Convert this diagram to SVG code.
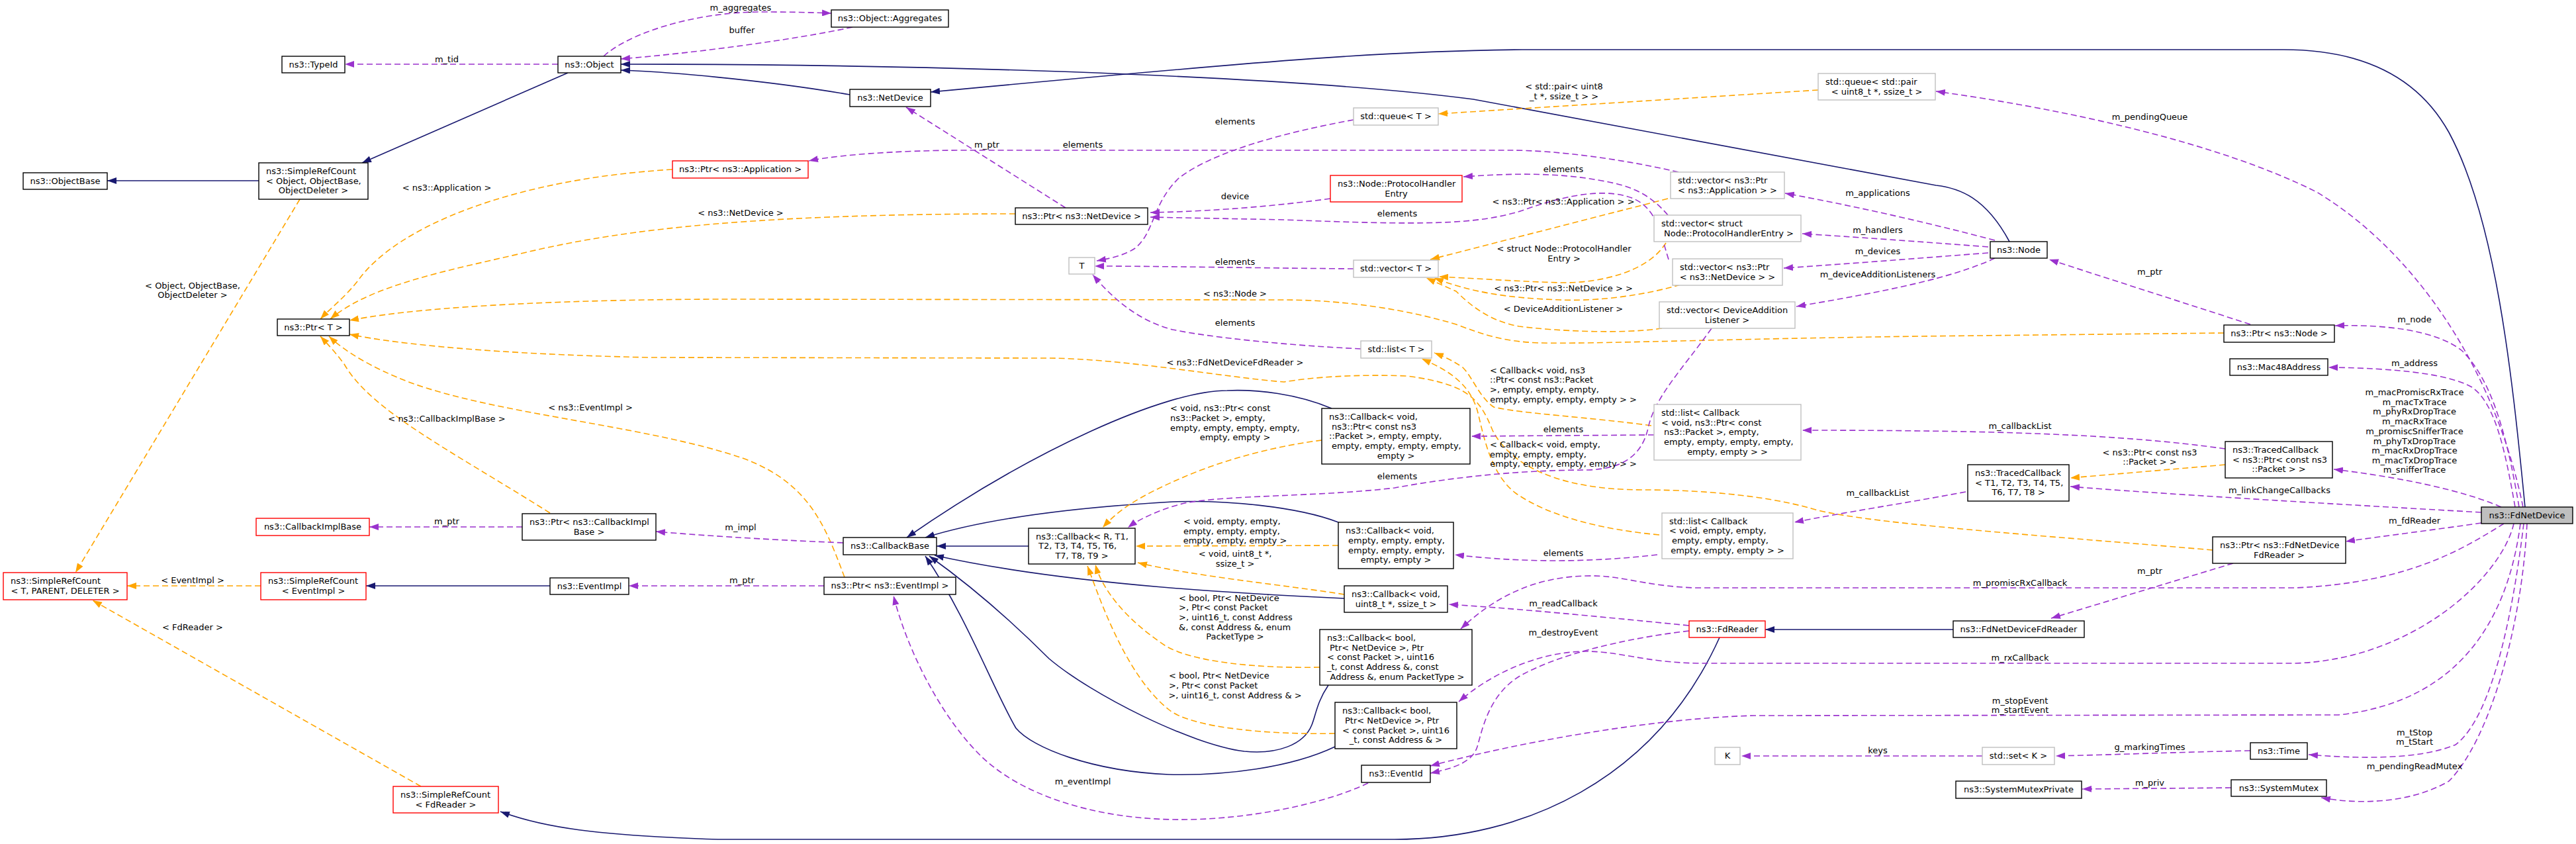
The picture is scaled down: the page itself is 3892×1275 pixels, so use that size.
<svg xmlns="http://www.w3.org/2000/svg" width="3892" height="1275" viewBox="0 0 3892 1275">
<style>
text{font-family:"DejaVu Sans","Liberation Sans",sans-serif;font-size:13px;fill:#000}
.m{text-anchor:middle}
.node rect{fill:#fff;stroke:#000;stroke-width:1.4}
.node.g rect{stroke:#bfbfbf}
.node.r rect{stroke:#ff0000}
.node.f rect{fill:#bfbfbf}
.e{fill:none;stroke-width:1.6}
.p{stroke:#9a32cd;stroke-dasharray:9 5;marker-end:url(#ap)}
.o{stroke:#ffa500;stroke-dasharray:9 5;marker-end:url(#ao)}
.n{stroke:#191970;marker-end:url(#an)}
</style>
<defs>
<marker id="ap" viewBox="0 0 14 10" refX="14" refY="5" markerWidth="14" markerHeight="10" markerUnits="userSpaceOnUse" orient="auto"><path d="M0,0L14,5L0,10z" fill="#9a32cd"/></marker>
<marker id="ao" viewBox="0 0 14 10" refX="14" refY="5" markerWidth="14" markerHeight="10" markerUnits="userSpaceOnUse" orient="auto"><path d="M0,0L14,5L0,10z" fill="#ffa500"/></marker>
<marker id="an" viewBox="0 0 14 10" refX="14" refY="5" markerWidth="14" markerHeight="10" markerUnits="userSpaceOnUse" orient="auto"><path d="M0,0L14,5L0,10z" fill="#191970"/></marker>
</defs>
<rect width="3892" height="1275" fill="#fff"/>
<g id="connectors">
<!-- inheritance -->
<path class="e n" d="M391,273L162,273"/>
<path class="e n" d="M858,110L547,246"/>
<path class="e n" d="M1284,143C1150,120 1000,108 938,106"/>
<path class="e n" d="M3036,365C3000,298 2960,284 2925,280L2226,150C2000,120 1500,97 938,97"/>
<path class="e n" d="M3815,766C3795,560 3770,330 3700,200C3650,110 3560,75 3450,75L2300,75C2100,77 1950,88 1406,139"/>
<path class="e n" d="M1554,825L1415,825"/>
<path class="e n" d="M2012,617C1960,595 1900,588 1854,590C1760,590 1560,680 1370,812"/>
<path class="e n" d="M2022,789C1960,765 1850,755 1772,758C1650,765 1500,780 1398,812"/>
<path class="e n" d="M2031,904C1900,898 1620,885 1412,839"/>
<path class="e n" d="M2007,1035C1990,1060 1988,1080 1982,1095C1970,1125 1930,1140 1880,1135C1800,1125 1650,1050 1585,995C1520,930 1460,880 1404,840"/>
<path class="e n" d="M2017,1128C1950,1160 1850,1172 1766,1170C1650,1165 1560,1130 1535,1100C1500,1040 1460,930 1398,840"/>
<path class="e n" d="M831,885L553,885"/>
<path class="e n" d="M2598,963C2500,1180 2300,1268 2107,1268L1085,1268C900,1262 820,1250 756,1226"/>
<path class="e n" d="M2951,951L2667,951"/>
<!-- template -->
<path class="e o" d="M394,885L192,885"/>
<path class="e o" d="M636,1188L140,907"/>
<path class="e o" d="M453,301L114,865"/>
<path class="e o" d="M1016,256C780,270 600,340 540,425C520,450 500,465 484,482"/>
<path class="e o" d="M1534,323C1150,323 950,345 800,380C680,408 560,430 499,482"/>
<path class="e o" d="M3360,503L2900,508C2600,512 2400,520 2326,518C2270,516 2240,505 2200,490C2100,460 2000,453 1940,453L1100,452C900,452 650,460 528,484"/>
<path class="e o" d="M3343,831C3100,810 2800,790 2733,767C2650,745 2550,740 2482,740C2350,740 2280,700 2255,650C2235,600 2215,580 2126,568C2050,565 1980,570 1940,577C1850,570 1700,542 1585,541L980,540C750,535 600,520 528,505"/>
<path class="e o" d="M1276,872C1245,790 1220,720 1100,685C950,640 750,625 620,578C560,555 520,530 497,508"/>
<path class="e o" d="M831,775C680,680 560,620 520,550C505,530 495,520 484,508"/>
<path class="e o" d="M2747,136L2173,172"/>
<path class="e o" d="M2520,300L2161,392"/>
<path class="e o" d="M2517,367C2490,410 2420,428 2357,427C2290,425 2220,420 2174,418"/>
<path class="e o" d="M2539,430C2470,450 2400,455 2357,453C2270,450 2220,440 2167,420"/>
<path class="e o" d="M2511,496C2450,505 2350,500 2295,493C2250,485 2220,460 2200,440L2155,420"/>
<path class="e o" d="M2495,643C2400,630 2300,625 2257,615C2235,600 2225,570 2210,555C2195,545 2185,540 2167,533"/>
<path class="e o" d="M2507,808C2420,800 2340,780 2290,745C2250,715 2240,650 2232,620C2220,580 2190,560 2148,542"/>
<path class="e o" d="M1997,665C1940,672 1860,690 1790,720C1720,750 1690,770 1666,797"/>
<path class="e o" d="M2022,824L1716,825"/>
<path class="e o" d="M2031,898C1950,885 1800,870 1719,850"/>
<path class="e o" d="M1994,1008C1900,1010 1800,1000 1760,975C1700,935 1665,890 1655,853"/>
<path class="e o" d="M2017,1108C1920,1110 1800,1100 1766,1072C1700,1020 1660,900 1643,855"/>
<path class="e o" d="M3362,702L3128,722"/>
<!-- usage -->
<path class="e p" d="M843,97L521,97"/>
<path class="e p" d="M912,85C950,50 1050,18 1150,18C1200,18 1230,19 1256,20"/>
<path class="e p" d="M1288,41C1200,60 1050,80 938,89"/>
<path class="e p" d="M1610,314L1369,162"/>
<path class="e p" d="M2536,260C2450,240 2350,227 2282,227L1460,227C1350,227 1260,235 1222,243"/>
<path class="e p" d="M2045,181C1940,200 1830,230 1780,270C1740,310 1745,350 1715,375C1700,385 1680,390 1657,394"/>
<path class="e p" d="M2045,406C1900,405 1750,402 1654,402"/>
<path class="e p" d="M2056,527C1950,522 1830,510 1772,498C1720,485 1680,450 1651,415"/>
<path class="e p" d="M2521,392C2505,340 2500,300 2440,293C2400,288 2350,300 2300,318C2230,340 2150,340 1940,332L1738,328"/>
<path class="e p" d="M2010,300C1900,315 1800,320 1738,321"/>
<path class="e p" d="M2520,325C2490,290 2460,280 2420,273C2350,260 2280,262 2211,267"/>
<path class="e p" d="M3014,363Q2850,320 2697,292"/>
<path class="e p" d="M3004,373C2900,365 2800,358 2723,353"/>
<path class="e p" d="M3004,382C2900,390 2800,398 2695,405"/>
<path class="e p" d="M3014,390C2950,420 2850,440 2714,463"/>
<path class="e p" d="M3400,490L3096,392"/>
<path class="e p" d="M3806,766C3785,640 3760,570 3720,530C3680,498 3600,490 3528,492"/>
<path class="e p" d="M3800,766C3785,680 3770,610 3735,585C3700,565 3620,556 3518,555"/>
<path class="e p" d="M3812,766C3770,560 3650,380 3500,290C3350,215 3120,165 2925,138"/>
<path class="e p" d="M3779,766C3720,740 3620,720 3526,709"/>
<path class="e p" d="M3749,774C3500,760 3250,745 3128,735"/>
<path class="e p" d="M3362,678C3200,655 3000,650 2723,650"/>
<path class="e p" d="M2970,743C2880,760 2780,775 2711,789"/>
<path class="e p" d="M2499,657L2223,659"/>
<path class="e p" d="M2504,838C2400,850 2300,850 2198,838"/>
<path class="e p" d="M2586,496C2540,560 2500,600 2490,647C2480,690 2450,708 2400,710C2300,710 2200,720 2107,737C2000,750 1850,748 1790,760C1750,770 1720,785 1704,797"/>
<path class="e p" d="M789,796L558,796"/>
<path class="e p" d="M1274,820C1150,815 1050,808 991,803"/>
<path class="e p" d="M1245,885L950,885"/>
<path class="e p" d="M2067,1183C2000,1215 1880,1240 1772,1238C1650,1236 1540,1200 1480,1140C1420,1080 1370,980 1350,900"/>
<path class="e p" d="M2552,945C2400,930 2300,920 2189,913"/>
<path class="e p" d="M2552,953C2450,965 2350,990 2295,1022C2250,1050 2240,1100 2232,1128C2225,1150 2200,1160 2161,1168"/>
<path class="e p" d="M3749,790C3680,800 3600,810 3544,818"/>
<path class="e p" d="M3374,851L3099,934"/>
<path class="e p" d="M3783,791C3720,830 3640,880 3469,888L2560,888C2480,885 2450,868 2395,870C2320,872 2260,900 2207,950"/>
<path class="e p" d="M3798,791C3780,870 3650,995 3469,1002L2564,1002C2480,1000 2450,984 2395,984C2320,985 2250,1020 2204,1060"/>
<path class="e p" d="M3808,791C3790,930 3720,1060 3533,1080L2650,1081C2500,1085 2300,1120 2161,1157"/>
<path class="e p" d="M3813,791C3800,900 3770,1080 3710,1125C3650,1150 3550,1145 3488,1140"/>
<path class="e p" d="M3818,791C3810,950 3760,1120 3700,1180C3640,1215 3560,1215 3507,1205"/>
<path class="e p" d="M3400,1134C3300,1136 3200,1140 3106,1142"/>
<path class="e p" d="M2995,1142L2631,1142"/>
<path class="e p" d="M3371,1190L3146,1192"/>
<g id="edge-labels">
<text class="m" x="675" y="94">m_tid</text>
<text class="m" x="1119" y="16">m_aggregates</text>
<text class="m" x="1121" y="50">buffer</text>
<text class="m" x="675" y="288">&lt; ns3::Application &gt;</text>
<text class="m" x="1491" y="223">m_ptr</text>
<text class="m" x="1636" y="223">elements</text>
<text class="m" x="1866" y="188">elements</text>
<text class="m" x="1119" y="326">&lt; ns3::NetDevice &gt;</text>
<text class="m" x="1866" y="301">device</text>
<text class="m" x="1866" y="400">elements</text>
<text class="m" x="2363" y="135">&lt; std::pair&lt; uint8</text>
<text class="m" x="2363" y="150">_t *, ssize_t &gt; &gt;</text>
<text class="m" x="2362" y="260">elements</text>
<text class="m" x="2362" y="309">&lt; ns3::Ptr&lt; ns3::Application &gt; &gt;</text>
<text class="m" x="2111" y="327">elements</text>
<text class="m" x="2363" y="380">&lt; struct Node::ProtocolHandler</text>
<text class="m" x="2363" y="395">Entry &gt;</text>
<text class="m" x="2837" y="296">m_applications</text>
<text class="m" x="2837" y="352">m_handlers</text>
<text class="m" x="2837" y="384">m_devices</text>
<text class="m" x="2837" y="419">m_deviceAdditionListeners</text>
<text class="m" x="3248" y="181">m_pendingQueue</text>
<text class="m" x="3248" y="415">m_ptr</text>
<text class="m" x="2362" y="440">&lt; ns3::Ptr&lt; ns3::NetDevice &gt; &gt;</text>
<text class="m" x="2362" y="471">&lt; DeviceAdditionListener &gt;</text>
<text class="m" x="1866" y="448">&lt; ns3::Node &gt;</text>
<text class="m" x="1866" y="492">elements</text>
<text class="m" x="1866" y="552">&lt; ns3::FdNetDeviceFdReader &gt;</text>
<text class="m" x="291" y="436">&lt; Object, ObjectBase,</text>
<text class="m" x="291" y="450">ObjectDeleter &gt;</text>
<text x="1768" y="621">&lt; void, ns3::Ptr&lt; const</text>
<text x="1768" y="636">ns3::Packet &gt;, empty,</text>
<text x="1768" y="651">empty, empty, empty, empty,</text>
<text class="m" x="1866" y="665">empty, empty &gt;</text>
<text x="2251" y="564">&lt; Callback&lt; void, ns3</text>
<text x="2251" y="578">::Ptr&lt; const ns3::Packet</text>
<text x="2251" y="593">&gt;, empty, empty, empty,</text>
<text class="m" x="2362" y="608">empty, empty, empty, empty &gt; &gt;</text>
<text class="m" x="2362" y="653">elements</text>
<text x="2251" y="676">&lt; Callback&lt; void, empty,</text>
<text x="2251" y="691">empty, empty, empty,</text>
<text class="m" x="2362" y="705">empty, empty, empty, empty &gt; &gt;</text>
<text class="m" x="2111" y="724">elements</text>
<text class="m" x="2837" y="749">m_callbackList</text>
<text class="m" x="2362" y="840">elements</text>
<text class="m" x="3648" y="487">m_node</text>
<text class="m" x="3648" y="553">m_address</text>
<text class="m" x="3648" y="597">m_macPromiscRxTrace</text>
<text class="m" x="3648" y="612">m_macTxTrace</text>
<text class="m" x="3648" y="626">m_phyRxDropTrace</text>
<text class="m" x="3648" y="641">m_macRxTrace</text>
<text class="m" x="3648" y="656">m_promiscSnifferTrace</text>
<text class="m" x="3648" y="671">m_phyTxDropTrace</text>
<text class="m" x="3648" y="685">m_macRxDropTrace</text>
<text class="m" x="3648" y="700">m_macTxDropTrace</text>
<text class="m" x="3648" y="714">m_snifferTrace</text>
<text class="m" x="3052" y="648">m_callbackList</text>
<text class="m" x="3248" y="688">&lt; ns3::Ptr&lt; const ns3</text>
<text class="m" x="3248" y="702">::Packet &gt; &gt;</text>
<text class="m" x="3444" y="745">m_linkChangeCallbacks</text>
<text class="m" x="3648" y="791">m_fdReader</text>
<text class="m" x="892" y="620">&lt; ns3::EventImpl &gt;</text>
<text class="m" x="675" y="637">&lt; ns3::CallbackImplBase &gt;</text>
<text class="m" x="675" y="792">m_ptr</text>
<text class="m" x="1119" y="801">m_impl</text>
<text x="1788" y="792">&lt; void, empty, empty,</text>
<text x="1788" y="807">empty, empty, empty,</text>
<text class="m" x="1866" y="821">empty, empty, empty &gt;</text>
<text class="m" x="1866" y="841">&lt; void, uint8_t *,</text>
<text class="m" x="1866" y="856">ssize_t &gt;</text>
<text class="m" x="291" y="881">&lt; EventImpl &gt;</text>
<text class="m" x="291" y="952">&lt; FdReader &gt;</text>
<text class="m" x="1121" y="881">m_ptr</text>
<text x="1781" y="908">&lt; bool, Ptr&lt; NetDevice</text>
<text x="1781" y="922">&gt;, Ptr&lt; const Packet</text>
<text x="1781" y="937">&gt;, uint16_t, const Address</text>
<text x="1781" y="952">&amp;, const Address &amp;, enum</text>
<text class="m" x="1866" y="966">PacketType &gt;</text>
<text x="1766" y="1025">&lt; bool, Ptr&lt; NetDevice</text>
<text x="1766" y="1040">&gt;, Ptr&lt; const Packet</text>
<text class="m" x="1866" y="1055">&gt;, uint16_t, const Address &amp; &gt;</text>
<text class="m" x="1636" y="1185">m_eventImpl</text>
<text class="m" x="2362" y="916">m_readCallback</text>
<text class="m" x="2362" y="960">m_destroyEvent</text>
<text class="m" x="2837" y="1138">keys</text>
<text class="m" x="3248" y="867">m_ptr</text>
<text class="m" x="3052" y="885">m_promiscRxCallback</text>
<text class="m" x="3052" y="998">m_rxCallback</text>
<text class="m" x="3052" y="1063">m_stopEvent</text>
<text class="m" x="3052" y="1077">m_startEvent</text>
<text class="m" x="3648" y="1111">m_tStop</text>
<text class="m" x="3648" y="1125">m_tStart</text>
<text class="m" x="3248" y="1133">g_markingTimes</text>
<text class="m" x="3648" y="1162">m_pendingReadMutex</text>
<text class="m" x="3248" y="1187">m_priv</text>
</g>
</g>
<g id="nodes">
<g id="TypeId" class="node"><rect x="426" y="85" width="95" height="25"/><text class="m" x="473.5" y="101.6">ns3::TypeId</text></g>
<g id="Object" class="node"><rect x="843" y="85" width="95" height="25"/><text class="m" x="890.5" y="101.6">ns3::Object</text></g>
<g id="ObjectBase" class="node"><rect x="35" y="261" width="127" height="25"/><text class="m" x="98.5" y="277.6">ns3::ObjectBase</text></g>
<g id="SRC_Object" class="node"><rect x="391" y="246" width="165" height="55"/><text x="402" y="263">ns3::SimpleRefCount</text><text x="402" y="277.6">&lt; Object, ObjectBase,</text><text class="m" x="473.5" y="292.3">ObjectDeleter &gt;</text></g>
<g id="Aggregates" class="node"><rect x="1256" y="15" width="177" height="26"/><text class="m" x="1344.5" y="32.1">ns3::Object::Aggregates</text></g>
<g id="NetDevice" class="node"><rect x="1284" y="135" width="122" height="26"/><text class="m" x="1345" y="152.1">ns3::NetDevice</text></g>
<g id="PtrApp" class="node r"><rect x="1016" y="243" width="205" height="26"/><text class="m" x="1118.5" y="260.1">ns3::Ptr&lt; ns3::Application &gt;</text></g>
<g id="PtrND" class="node"><rect x="1534" y="314" width="200" height="25"/><text class="m" x="1634" y="330.6">ns3::Ptr&lt; ns3::NetDevice &gt;</text></g>
<g id="T" class="node g"><rect x="1615" y="389" width="39" height="25"/><text class="m" x="1634.5" y="405.6">T</text></g>
<g id="queueT" class="node g"><rect x="2045" y="163" width="128" height="26"/><text class="m" x="2109" y="180.1">std::queue&lt; T &gt;</text></g>
<g id="queuePair" class="node g"><rect x="2747" y="111" width="177" height="40"/><text x="2758" y="127.8">std::queue&lt; std::pair</text><text class="m" x="2835.5" y="142.5">&lt; uint8_t *, ssize_t &gt;</text></g>
<g id="PHE" class="node r"><rect x="2010" y="265" width="199" height="40"/><text x="2021" y="281.8">ns3::Node::ProtocolHandler</text><text class="m" x="2109.5" y="296.5">Entry</text></g>
<g id="vecPtrApp" class="node g"><rect x="2524" y="260" width="172" height="40"/><text x="2535" y="276.8">std::vector&lt; ns3::Ptr</text><text class="m" x="2610" y="291.5">&lt; ns3::Application &gt; &gt;</text></g>
<g id="vecPHE" class="node g"><rect x="2499" y="325" width="222" height="40"/><text x="2510" y="341.8">std::vector&lt; struct</text><text class="m" x="2612" y="356.5">Node::ProtocolHandlerEntry &gt;</text></g>
<g id="vecT" class="node g"><rect x="2045" y="393" width="128" height="26"/><text class="m" x="2109" y="410.1">std::vector&lt; T &gt;</text></g>
<g id="vecPtrND" class="node g"><rect x="2527" y="391" width="166" height="40"/><text x="2538" y="407.8">std::vector&lt; ns3::Ptr</text><text class="m" x="2610" y="422.5">&lt; ns3::NetDevice &gt; &gt;</text></g>
<g id="Node" class="node"><rect x="3007" y="365" width="86" height="25"/><text class="m" x="3050" y="381.6">ns3::Node</text></g>
<g id="vecDAL" class="node g"><rect x="2507" y="456" width="205" height="40"/><text x="2518" y="472.8">std::vector&lt; DeviceAddition</text><text class="m" x="2609.5" y="487.5">Listener &gt;</text></g>
<g id="listT" class="node g"><rect x="2056" y="515" width="107" height="26"/><text class="m" x="2109.5" y="532.1">std::list&lt; T &gt;</text></g>
<g id="PtrT" class="node"><rect x="419" y="482" width="109" height="25"/><text class="m" x="473.5" y="498.6">ns3::Ptr&lt; T &gt;</text></g>
<g id="PtrNode" class="node"><rect x="3360" y="491" width="167" height="26"/><text class="m" x="3443.5" y="508.1">ns3::Ptr&lt; ns3::Node &gt;</text></g>
<g id="Mac48Address" class="node"><rect x="3369" y="542" width="148" height="25"/><text class="m" x="3443" y="558.6">ns3::Mac48Address</text></g>
<g id="CbVoidPtr" class="node"><rect x="1997" y="617" width="224" height="84"/><text x="2008" y="633.8">ns3::Callback&lt; void,</text><text x="2012" y="648.5">ns3::Ptr&lt; const ns3</text><text x="2008" y="663.2">::Packet &gt;, empty, empty,</text><text x="2012" y="677.9">empty, empty, empty, empty,</text><text class="m" x="2109" y="692.6">empty &gt;</text></g>
<g id="listCbPtr" class="node g"><rect x="2499" y="611" width="222" height="84"/><text x="2510" y="627.8">std::list&lt; Callback</text><text x="2510" y="642.5">&lt; void, ns3::Ptr&lt; const</text><text x="2514" y="657.2">ns3::Packet &gt;, empty,</text><text x="2514" y="671.9">empty, empty, empty, empty,</text><text class="m" x="2610" y="686.6">empty, empty &gt; &gt;</text></g>
<g id="TCPtr" class="node"><rect x="3362" y="667" width="162" height="55"/><text x="3373" y="684">ns3::TracedCallback</text><text x="3373" y="698.7">&lt; ns3::Ptr&lt; const ns3</text><text class="m" x="3443" y="713.4">::Packet &gt; &gt;</text></g>
<g id="TCT" class="node"><rect x="2973" y="702" width="153" height="55"/><text x="2984" y="719">ns3::TracedCallback</text><text x="2984" y="733.7">&lt; T1, T2, T3, T4, T5,</text><text class="m" x="3049.5" y="748.4">T6, T7, T8 &gt;</text></g>
<g id="FdNetDevice" class="node f"><rect x="3749" y="766" width="138" height="25"/><text class="m" x="3818" y="782.6">ns3::FdNetDevice</text></g>
<g id="listCbEmpty" class="node g"><rect x="2511" y="775" width="198" height="69"/><text x="2522" y="791.6">std::list&lt; Callback</text><text x="2522" y="806.3">&lt; void, empty, empty,</text><text x="2526" y="821">empty, empty, empty,</text><text class="m" x="2610" y="835.7">empty, empty, empty &gt; &gt;</text></g>
<g id="CbEmpty" class="node"><rect x="2022" y="789" width="174" height="70"/><text x="2033" y="806.1">ns3::Callback&lt; void,</text><text x="2037" y="820.8">empty, empty, empty,</text><text x="2037" y="835.5">empty, empty, empty,</text><text class="m" x="2109" y="850.2">empty, empty &gt;</text></g>
<g id="CallbackImplBase" class="node r"><rect x="387" y="783" width="171" height="26"/><text class="m" x="472.5" y="800.1">ns3::CallbackImplBase</text></g>
<g id="PtrCIB" class="node"><rect x="789" y="776" width="202" height="40"/><text x="800" y="792.8">ns3::Ptr&lt; ns3::CallbackImpl</text><text class="m" x="890" y="807.5">Base &gt;</text></g>
<g id="CallbackBase" class="node"><rect x="1274" y="812" width="141" height="26"/><text class="m" x="1344.5" y="829.1">ns3::CallbackBase</text></g>
<g id="CbR" class="node"><rect x="1554" y="798" width="161" height="54"/><text x="1565" y="814.5">ns3::Callback&lt; R, T1,</text><text x="1569" y="829.2">T2, T3, T4, T5, T6,</text><text class="m" x="1634.5" y="843.9">T7, T8, T9 &gt;</text></g>
<g id="PtrFdNDFR" class="node"><rect x="3343" y="811" width="201" height="40"/><text x="3354" y="827.8">ns3::Ptr&lt; ns3::FdNetDevice</text><text class="m" x="3443.5" y="842.5">FdReader &gt;</text></g>
<g id="SRC_T" class="node r"><rect x="5" y="865" width="187" height="41"/><text x="16" y="882.3">ns3::SimpleRefCount</text><text class="m" x="98.5" y="897">&lt; T, PARENT, DELETER &gt;</text></g>
<g id="SRC_EventImpl" class="node r"><rect x="394" y="865" width="159" height="41"/><text x="405" y="882.3">ns3::SimpleRefCount</text><text class="m" x="473.5" y="897">&lt; EventImpl &gt;</text></g>
<g id="EventImpl" class="node"><rect x="831" y="873" width="119" height="25"/><text class="m" x="890.5" y="889.6">ns3::EventImpl</text></g>
<g id="PtrEventImpl" class="node"><rect x="1245" y="872" width="199" height="26"/><text class="m" x="1344.5" y="889.1">ns3::Ptr&lt; ns3::EventImpl &gt;</text></g>
<g id="CbUint8" class="node"><rect x="2031" y="885" width="156" height="40"/><text x="2042" y="901.8">ns3::Callback&lt; void,</text><text class="m" x="2109" y="916.5">uint8_t *, ssize_t &gt;</text></g>
<g id="FdReader" class="node r"><rect x="2552" y="938" width="115" height="25"/><text class="m" x="2609.5" y="954.6">ns3::FdReader</text></g>
<g id="FdNetDeviceFdReader" class="node"><rect x="2951" y="938" width="198" height="25"/><text class="m" x="3050" y="954.6">ns3::FdNetDeviceFdReader</text></g>
<g id="CbBoolPT" class="node"><rect x="1994" y="951" width="230" height="84"/><text x="2005" y="967.8">ns3::Callback&lt; bool,</text><text x="2009" y="982.5">Ptr&lt; NetDevice &gt;, Ptr</text><text x="2005" y="997.2">&lt; const Packet &gt;, uint16</text><text x="2005" y="1011.9">_t, const Address &amp;, const</text><text class="m" x="2111" y="1026.6">Address &amp;, enum PacketType &gt;</text></g>
<g id="CbBoolA" class="node"><rect x="2017" y="1061" width="184" height="70"/><text x="2028" y="1078.1">ns3::Callback&lt; bool,</text><text x="2032" y="1092.8">Ptr&lt; NetDevice &gt;, Ptr</text><text x="2028" y="1107.5">&lt; const Packet &gt;, uint16</text><text class="m" x="2109" y="1122.2">_t, const Address &amp; &gt;</text></g>
<g id="EventId" class="node"><rect x="2057" y="1156" width="104" height="26"/><text class="m" x="2109" y="1173.1">ns3::EventId</text></g>
<g id="K" class="node g"><rect x="2591" y="1129" width="38" height="26"/><text class="m" x="2610" y="1146.1">K</text></g>
<g id="setK" class="node g"><rect x="2995" y="1129" width="109" height="26"/><text class="m" x="3049.5" y="1146.1">std::set&lt; K &gt;</text></g>
<g id="Time" class="node"><rect x="3400" y="1122" width="86" height="25"/><text class="m" x="3443" y="1138.6">ns3::Time</text></g>
<g id="SystemMutexPrivate" class="node"><rect x="2955" y="1180" width="190" height="26"/><text class="m" x="3050" y="1197.1">ns3::SystemMutexPrivate</text></g>
<g id="SystemMutex" class="node"><rect x="3371" y="1178" width="144" height="25"/><text class="m" x="3443" y="1194.6">ns3::SystemMutex</text></g>
<g id="SRC_FdReader" class="node r"><rect x="594" y="1188" width="159" height="40"/><text x="605" y="1204.8">ns3::SimpleRefCount</text><text class="m" x="673.5" y="1219.5">&lt; FdReader &gt;</text></g>
</g>
</svg>
